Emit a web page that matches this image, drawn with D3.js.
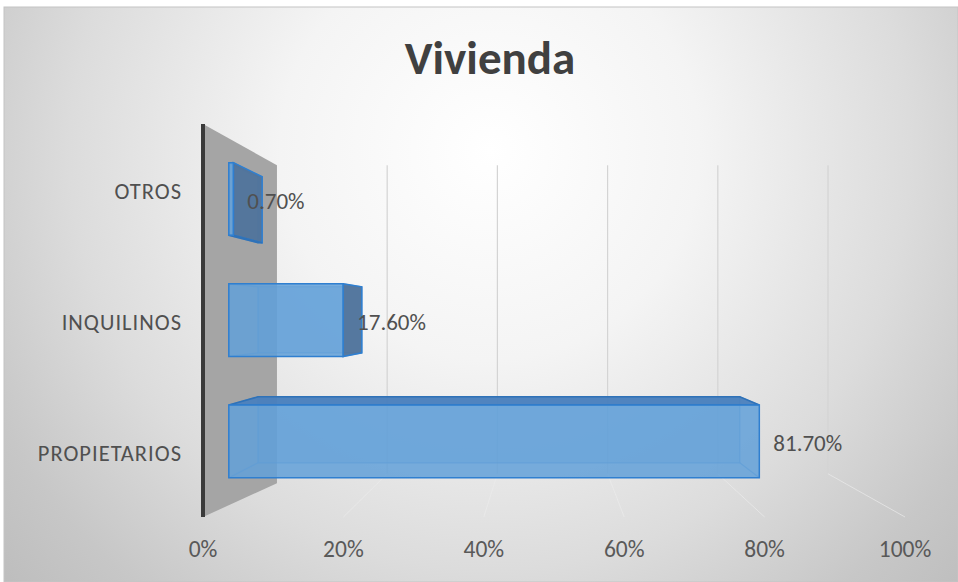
<!DOCTYPE html>
<html>
<head>
<meta charset="utf-8">
<script src="https://cdn.jsdelivr.net/npm/d3@7"></script>
<style>
  body { margin: 0; background: #fff; }
  text { font-family: Carlito, Lato, "Noto Sans", sans-serif; }
</style>
</head>
<body>
<div id="chart"></div>
<script>
// data
var title = "Vivienda";
var categories = ["OTROS", "INQUILINOS", "PROPIETARIOS"];
var values = [0.7, 17.6, 81.7];
var tickValues = [0, 20, 40, 60, 80, 100];

var W = 958, H = 582;

var svg = d3.select("#chart").append("svg")
  .attr("width", W)
  .attr("height", H);

// background gradient
var defs = svg.append("defs");
var grad = defs.append("radialGradient")
  .attr("id", "bg")
  .attr("gradientUnits", "userSpaceOnUse")
  .attr("cx", 490).attr("cy", 150).attr("r", 700);
grad.append("stop").attr("offset", "0").attr("stop-color", "#ffffff");
grad.append("stop").attr("offset", "0.3").attr("stop-color", "#f4f4f4");
grad.append("stop").attr("offset", "0.6").attr("stop-color", "#dcdcdc");
grad.append("stop").attr("offset", "0.8").attr("stop-color", "#c7c7c7");
grad.append("stop").attr("offset", "1").attr("stop-color", "#b8b8b8");

svg.append("rect")
  .attr("x", 4).attr("y", 7)
  .attr("width", W - 4).attr("height", H - 7)
  .attr("fill", "url(#bg)")
  .attr("stroke", "#c4c4c4");

// front plane scales, then a simple perspective toward vp
var x = d3.scaleLinear().domain([0, 100]).range([203, 905]);
var y = d3.scaleBand().domain(categories).range([124, 517])
  .paddingInner(0.4).paddingOuter(0.2);

var vp = [547, 316];
var sWall = 0.785, sBarFront = 0.925, sBarBack = 0.84;

function proj(px, py, s) {
  return [vp[0] + (px - vp[0]) * s, vp[1] + (py - vp[1]) * s];
}
function poly(pts) {
  return "M" + pts.map(function(p){ return p[0] + "," + p[1]; }).join("L") + "Z";
}

var yTop = y.range()[0], yBot = y.range()[1];

// left side wall
svg.append("path")
  .attr("d", poly([
    proj(x(0), yTop, 1), proj(x(0), yTop, sWall),
    proj(x(0), yBot + 12, sWall), proj(x(0), yBot, 1)
  ]))
  .attr("fill", "#a5a5a5");

// back wall gridlines and floor lines
var grid = svg.append("g");
tickValues.slice(1).forEach(function(t) {
  var a = proj(x(t), yTop, sWall), b = proj(x(t), yBot, sWall), c = proj(x(t), yBot, 1);
  grid.append("line")
    .attr("x1", a[0]).attr("y1", a[1]).attr("x2", b[0]).attr("y2", b[1])
    .attr("stroke", "#d4d4d4").attr("stroke-width", 1.2);
  grid.append("line")
    .attr("x1", b[0]).attr("y1", b[1]).attr("x2", c[0]).attr("y2", c[1])
    .attr("stroke", "#ebebeb").attr("stroke-opacity", 0.7).attr("stroke-width", 1);
});

// vertical axis line at the front edge of the wall
svg.append("line")
  .attr("x1", x(0)).attr("y1", yTop).attr("x2", x(0)).attr("y2", yBot)
  .attr("stroke", "#3a3a3a").attr("stroke-width", 4);

// 3D bars
var bars = svg.append("g");
categories.forEach(function(cat, i) {
  var x0 = x(0), x1 = x(values[i]);
  var y0 = y(cat), y1 = y(cat) + y.bandwidth();
  var F = [proj(x0, y0, sBarFront), proj(x1, y0, sBarFront), proj(x1, y1, sBarFront), proj(x0, y1, sBarFront)];
  var B = [proj(x0, y0, sBarBack), proj(x1, y0, sBarBack), proj(x1, y1, sBarBack), proj(x0, y1, sBarBack)];
  var g = bars.append("g");

  // back face (seen through the front)
  g.append("path").attr("d", poly(B))
    .attr("fill", "#5b9bd5").attr("fill-opacity", 0.35)
    .attr("stroke", "#3f86cf").attr("stroke-opacity", 0.6).attr("stroke-width", 1.2);
  // edges joining front and back
  for (var k = 0; k < 4; k++) {
    g.append("line")
      .attr("x1", F[k][0]).attr("y1", F[k][1]).attr("x2", B[k][0]).attr("y2", B[k][1])
      .attr("stroke", "#3f86cf").attr("stroke-opacity", 0.6).attr("stroke-width", 1.2);
  }
  // side faces that face the viewer
  if (F[1][0] < vp[0]) {
    g.append("path").attr("d", poly([F[1], B[1], B[2], F[2]]))
      .attr("fill", "#4f739b").attr("fill-opacity", 0.95)
      .attr("stroke", "#2f7fd0").attr("stroke-width", 1.5);
  }
  if (F[0][1] > vp[1]) {
    g.append("path").attr("d", poly([F[0], B[0], B[1], F[1]]))
      .attr("fill", "#4a80bd").attr("fill-opacity", 0.95)
      .attr("stroke", "#2f72b8").attr("stroke-width", 1.5);
  }
  if (F[3][1] < vp[1]) {
    g.append("path").attr("d", poly([F[3], B[3], B[2], F[2]]))
      .attr("fill", "#4a80bd").attr("fill-opacity", 0.95)
      .attr("stroke", "#2f72b8").attr("stroke-width", 1.5);
  }
  // front face
  g.append("path").attr("d", poly(F))
    .attr("fill", "#62a0d8").attr("fill-opacity", 0.85)
    .attr("stroke", "#2f7fd0").attr("stroke-width", 1.5);

  // value label
  svg.append("text")
    .attr("x", F[1][0] + 14)
    .attr("y", (F[1][1] + F[2][1]) / 2 + 2)
    .attr("dy", "0.35em")
    .attr("fill", "#505050")
    .attr("font-size", 23)
    .text(values[i].toFixed(2) + "%");
});

// category labels
svg.append("g").selectAll("text")
  .data(categories)
  .enter().append("text")
    .attr("x", 182)
    .attr("y", function(d) { return y(d) + y.bandwidth() / 2 + 2; })
    .attr("dy", "0.35em")
    .attr("text-anchor", "end")
    .attr("fill", "#505050")
    .attr("font-size", 22.5)
    .attr("letter-spacing", 1)
    .text(function(d) { return d; });

// horizontal axis tick labels
svg.append("g").selectAll("text")
  .data(tickValues)
  .enter().append("text")
    .attr("x", function(d) { return x(d); })
    .attr("y", 549)
    .attr("dy", "0.35em")
    .attr("text-anchor", "middle")
    .attr("fill", "#595959")
    .attr("font-size", 23.5)
    .text(function(d) { return d + "%"; });

// title
svg.append("text")
  .attr("x", 490).attr("y", 58)
  .attr("dy", "0.35em")
  .attr("text-anchor", "middle")
  .attr("fill", "#404040")
  .attr("font-size", 47)
  .attr("font-weight", "bold")
  .text(title);
</script>
</body>
</html>
